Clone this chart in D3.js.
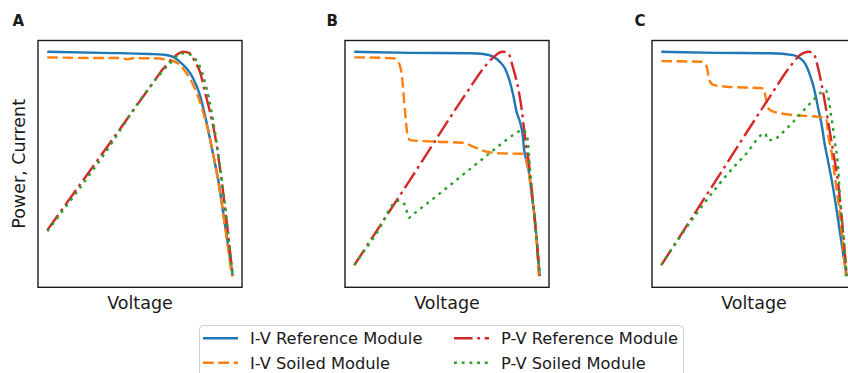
<!doctype html>
<html lang="en">

<head>
  <meta charset="utf-8">
  <title>I-V / P-V curves</title>
  <style>
    body { margin: 0; background: #fff; }
    svg { display: block; font-family: 'DejaVu Sans', sans-serif; }
  </style>
</head>

<body>
  <svg id="chart" width="848" height="373"></svg>
</body>

</html>

<script type="text/javascript" src="https://cdn.jsdelivr.net/npm/d3@7/dist/d3.min.js"></script>
<script>
  //
  // Data (normalised voltage, normalised power / current)
  //

  var panelNames = ['A', 'B', 'C']
  var seriesNames = ['I-V Reference Module', 'I-V Soiled Module', 'P-V Reference Module', 'P-V Soiled Module']
  var xLabel = 'Voltage'
  var yLabel = 'Power, Current'

  var ivRefA = [[0, 1.0], [0.3, 0.995], [0.554, 0.99], [0.62, 0.987], [0.661, 0.982], [0.69, 0.972], [0.715, 0.955],
    [0.751, 0.926], [0.787, 0.881], [0.823, 0.807], [0.85, 0.718], [0.873, 0.629], [0.9, 0.52], [0.922, 0.428],
    [0.95, 0.274], [0.975, 0.137], [1.0, 0]]
  var ivSoiledA = [[0, 0.975], [0.25, 0.972], [0.4, 0.972], [0.43, 0.966], [0.46, 0.971], [0.554, 0.971],
    [0.661, 0.963], [0.715, 0.941], [0.751, 0.904], [0.787, 0.852], [0.823, 0.777], [0.85, 0.703], [0.873, 0.629],
    [0.92, 0.43], [0.995, 0]]
  var pvRefA = [[0, 0.205], [0.3, 0.55], [0.571, 0.862], [0.625, 0.924], [0.665, 0.96], [0.7, 0.988], [0.733, 1.0],
    [0.769, 0.993], [0.796, 0.955], [0.823, 0.911], [0.85, 0.822], [0.877, 0.733], [0.904, 0.629], [0.949, 0.369],
    [1.0, 0]]
  var pvSoiledA = [[0, 0.2], [0.3, 0.535], [0.554, 0.844], [0.661, 0.948], [0.724, 0.993], [0.76, 0.99],
    [0.796, 0.97], [0.823, 0.933], [0.859, 0.837], [0.886, 0.733], [0.904, 0.643], [0.95, 0.37], [1.0, 0]]

  var ivRefB = [[0, 1.0], [0.3, 0.995], [0.624, 0.993], [0.695, 0.99], [0.749, 0.978], [0.785, 0.955], [0.812, 0.926],
    [0.839, 0.866], [0.857, 0.807], [0.875, 0.733], [0.893, 0.688], [0.908, 0.629], [0.915, 0.569], [0.929, 0.51],
    [0.943, 0.458], [0.956, 0.369], [0.974, 0.25], [1.0, 0]]
  var ivSoiledB = [[0, 0.975], [0.21, 0.971], [0.237, 0.955], [0.255, 0.904], [0.273, 0.74], [0.286, 0.636],
    [0.3, 0.606], [0.444, 0.599], [0.588, 0.594], [0.641, 0.577], [0.714, 0.554], [0.785, 0.547], [0.902, 0.545],
    [0.915, 0.535], [0.929, 0.515], [0.938, 0.478], [0.956, 0.369], [0.974, 0.25], [0.995, 0]]
  var pvRefB = [[0, 0.049], [0.3, 0.428], [0.62, 0.835], [0.7, 0.93], [0.75, 0.975], [0.78, 0.995], [0.803, 1.0],
    [0.83, 0.993], [0.857, 0.926], [0.884, 0.837], [0.902, 0.748], [0.915, 0.659], [0.926, 0.584], [0.938, 0.525],
    [0.96, 0.36], [0.98, 0.19], [1.0, 0]]
  var pvSoiledB = [[0, 0.049], [0.12, 0.19], [0.237, 0.336], [0.262, 0.33], [0.28, 0.3], [0.293, 0.26],
    [0.32, 0.277], [0.678, 0.513], [0.785, 0.584], [0.857, 0.629], [0.911, 0.651], [0.929, 0.629], [0.938, 0.584],
    [0.943, 0.525], [0.96, 0.36], [0.98, 0.19], [1.0, 0]]

  var ivRefC = [[0, 1.0], [0.3, 0.995], [0.586, 0.993], [0.712, 0.985], [0.748, 0.971], [0.775, 0.948],
    [0.802, 0.896], [0.828, 0.822], [0.846, 0.748], [0.865, 0.673], [0.882, 0.584], [0.9, 0.51], [0.925, 0.4],
    [0.95, 0.27], [0.975, 0.13], [1.0, 0]]
  var ivSoiledC = [[0, 0.958], [0.218, 0.955], [0.245, 0.933], [0.259, 0.874], [0.28, 0.852], [0.352, 0.844],
    [0.55, 0.837], [0.562, 0.8], [0.577, 0.748], [0.604, 0.733], [0.712, 0.718], [0.873, 0.708], [0.891, 0.696],
    [0.9, 0.629], [0.918, 0.554], [0.94, 0.42], [0.965, 0.26], [0.995, 0]]
  var pvRefC = [[0, 0.049], [0.3, 0.433], [0.586, 0.8], [0.694, 0.933], [0.748, 0.985], [0.793, 1.0], [0.82, 0.993],
    [0.846, 0.926], [0.865, 0.852], [0.882, 0.777], [0.9, 0.688], [0.918, 0.599], [0.936, 0.51], [0.95, 0.44],
    [0.965, 0.33], [0.981, 0.19], [1.0, 0]]
  var pvSoiledC = [[0, 0.049], [0.191, 0.28], [0.245, 0.339], [0.352, 0.45], [0.46, 0.547], [0.559, 0.636],
    [0.577, 0.606], [0.604, 0.606], [0.64, 0.629], [0.712, 0.688], [0.811, 0.777], [0.856, 0.815], [0.885, 0.828],
    [0.9, 0.8], [0.918, 0.703], [0.936, 0.599], [0.954, 0.48], [0.965, 0.33], [0.981, 0.19], [1.0, 0]]

  var panelSeries = [
    [ivRefA, ivSoiledA, pvRefA, pvSoiledA],
    [ivRefB, ivSoiledB, pvRefB, pvSoiledB],
    [ivRefC, ivSoiledC, pvRefC, pvSoiledC]
  ]

  //
  // Configuration
  //

  var colors = ['#1f77b4', '#ff7f0e', '#d62728', '#2ca02c']
  var dashes = [null, '10.7,4.6', '18.6,4.6,2.9,4.6', '2.9,4.8']
  var lineWidth = 2.4
  var panelLeft = [38, 345, 652]
  var panelWidth = 204
  var panelTop = 40.5
  var panelBottom = 287.3
  var titleX = [12.5, 326.5, 634.5]

  //
  // Drawing
  //

  var svg = d3.select('#chart')

  panelNames.forEach(function (name, i) {
    var left = panelLeft[i]
    var x = d3.scaleLinear().domain([-0.05, 1.05]).range([left, left + panelWidth])
    var y = d3.scaleLinear().domain([-0.05, 1.05]).range([panelBottom, panelTop])
    var line = d3.line()
      .x(function (d) { return x(d[0]) })
      .y(function (d) { return y(d[1]) })
      .curve(d3.curveMonotoneX)

    var g = svg.append('g')

    panelSeries[i].forEach(function (series, k) {
      g.append('path')
        .datum(series)
        .attr('d', line)
        .attr('fill', 'none')
        .attr('stroke', colors[k])
        .attr('stroke-width', lineWidth)
        .attr('stroke-dasharray', dashes[k])
        .attr('stroke-linejoin', 'round')
    })

    g.append('rect')
      .attr('x', left)
      .attr('y', panelTop)
      .attr('width', panelWidth)
      .attr('height', panelBottom - panelTop)
      .attr('fill', 'none')
      .attr('stroke', '#1a1a1a')
      .attr('stroke-width', 1.4)

    g.append('text')
      .attr('x', left + panelWidth / 2)
      .attr('y', 308.5)
      .attr('text-anchor', 'middle')
      .attr('font-size', 17.5)
      .attr('fill', '#1a1a1a')
      .text(xLabel)

    svg.append('text')
      .attr('x', titleX[i])
      .attr('y', 26)
      .attr('font-size', 15)
      .attr('font-weight', 'bold')
      .attr('fill', '#1a1a1a')
      .text(name)
  })

  svg.append('text')
    .attr('transform', 'translate(24.5,' + ((panelTop + panelBottom) / 2) + ') rotate(-90)')
    .attr('text-anchor', 'middle')
    .attr('font-size', 17.5)
    .attr('fill', '#1a1a1a')
    .text(yLabel)

  //
  // Legend
  //

  var legend = svg.append('g')
  legend.append('rect')
    .attr('x', 199.5)
    .attr('y', 325.5)
    .attr('width', 484)
    .attr('height', 70)
    .attr('rx', 4)
    .attr('fill', '#fff')
    .attr('stroke', '#d0d0d0')
    .attr('stroke-width', 1)

  var legendX = [203, 454]
  var legendY = [338.3, 362.8]

  seriesNames.forEach(function (label, k) {
    var col = Math.floor(k / 2)
    var row = k % 2
    var lx = legendX[col]
    var ly = legendY[row]
    legend.append('line')
      .attr('x1', lx)
      .attr('x2', lx + 35)
      .attr('y1', ly)
      .attr('y2', ly)
      .attr('stroke', colors[k])
      .attr('stroke-width', lineWidth)
      .attr('stroke-dasharray', dashes[k])
    legend.append('text')
      .attr('x', lx + 47)
      .attr('y', ly + 6)
      .attr('font-size', 16.3)
      .attr('fill', '#1a1a1a')
      .text(label)
  })
</script>
